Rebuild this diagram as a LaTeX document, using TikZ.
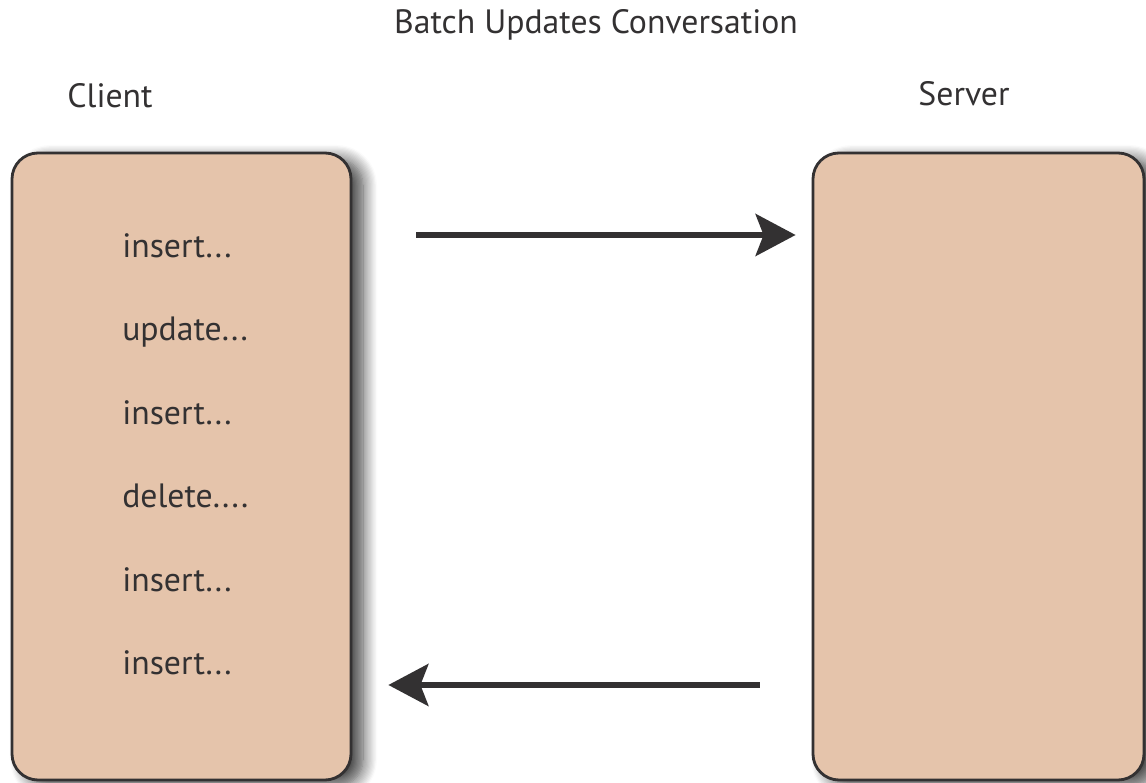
\documentclass[tikz,border=0pt]{standalone}
\usepackage{fontspec}
\setmainfont{PT Sans}
\usetikzlibrary{arrows.meta, shadows.blur}

\definecolor{boxfill}{RGB}{229,196,171}
\definecolor{ink}{RGB}{51,49,50}

\begin{document}
\begin{tikzpicture}[>={Stealth[length=1cm, width=1.05cm, inset=0.2cm]},
    every node/.style={font=\fontsize{24}{28}\selectfont, text=ink},
    party/.style={draw=ink, line width=2pt, fill=boxfill, rounded corners=0.65cm,
        blur shadow={shadow xshift=0.3cm, shadow yshift=-0.15cm, shadow blur steps=12,
            shadow blur radius=0.35cm, shadow opacity=75}},
    stmt/.style={anchor=base west, inner xsep=0pt},
    msg/.style={draw=ink, line width=4pt}]
    \useasboundingbox (0,0) rectangle (28.65,19.575);
    \node (title) at (14.9,18.95) {Batch Updates Conversation};
    \node (clientlbl) at (2.75,17.175) {Client};
    \node (serverlbl) at (24.1,17.225) {Server};
    % the two ends of the conversation
    \node[party, minimum width=8.475cm, minimum height=15.675cm] (client) at (4.5375,7.9125) {};
    \node[party, minimum width=8.275cm, minimum height=15.675cm] (server) at (24.4625,7.9125) {};
    % batched statements
    \node[stmt] (s1) at (3.05,13.125) {insert...};
    \node[stmt] (s2) at (3.05,11.05) {update...};
    \node[stmt] (s3) at (3.05,8.95) {insert...};
    \node[stmt] (s4) at (3.05,6.875) {delete....};
    \node[stmt] (s5) at (3.05,4.775) {insert...};
    \node[stmt] (s6) at (3.05,2.7) {insert...};
    % request and reply
    \coordinate (reqrow) at (0,13.7);
    \coordinate (replyrow) at (0,2.45);
    \draw[msg, ->, shorten <=1.6cm, shorten >=0.4cm] (client.east |- reqrow) -- (server.west |- reqrow);
    \draw[msg, ->, shorten <=1.3cm, shorten >=0.9cm] (server.west |- replyrow) -- (client.east |- replyrow);
\end{tikzpicture}
\end{document}
